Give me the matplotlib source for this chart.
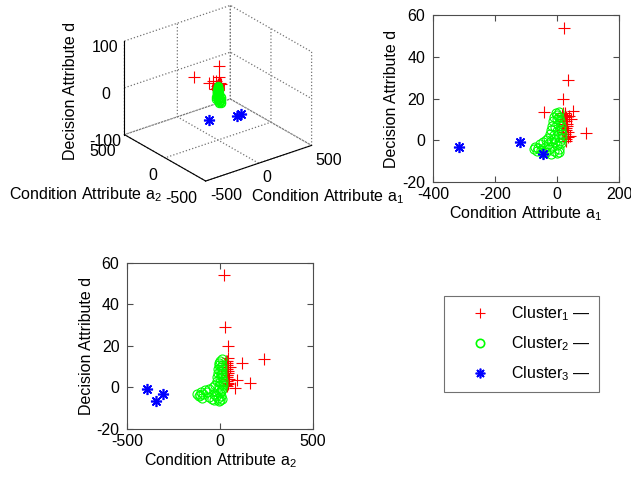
import matplotlib
matplotlib.use("Agg")
import matplotlib.pyplot as plt
from matplotlib.lines import Line2D

plt.rcParams['font.family'] = ['Liberation Sans', 'DejaVu Sans']
plt.rcParams['font.size'] = 11.5
plt.rcParams['mathtext.fontset'] = 'custom'
plt.rcParams['mathtext.rm'] = 'Liberation Sans'
plt.rcParams['mathtext.it'] = 'Liberation Sans:italic'
plt.rcParams['axes.unicode_minus'] = False
plt.rcParams['xtick.direction'] = 'in'
plt.rcParams['ytick.direction'] = 'in'
plt.rcParams['xtick.top'] = True
plt.rcParams['ytick.right'] = True

# cluster 1 (red +): condition a1, condition a2, decision d
c1_a1 = [23, 34, 18, -42, 52, 40, 93, 42, 30, 45,
         20, 25, 30, 22, 28, 32, 18, 25, 30, 20, 27, 35, 22, 30, 15,
         33, 24, 19, 28, 36, 26, 31, 21, 34, 17]
c1_a2 = [21, 28, 43, 236, 43, 117, 90, 161, 81, 54,
         30, 35, 40, 28, 38, 42, 30, 35, 40, 32, 36, 45, 32, 38, 28,
         45, 34, 30, 40, 46, 36, 44, 33, 44, 30]
c1_d = [54, 29, 20, 13.7, 14, 11.8, 3.6, 2, -0.3, 10,
        13, 12, 11, 10, 9, 8, 7, 6, 5, 4, 3, 2, 1, 0.5, 12,
        10, 8, 3, 6, 4, 13, 7, 9, 1.5, 5]

# cluster 2 (green o)
c2_a1 = [-3, 5, 0, -8, 8, 0, -12, 10, 2, -15, 12, -5, -18, 14, 0,
         -22, 15, -8, -30, 15, -10, 5, -35, 10, -20, -45, -5, 12,
         -55, -30, 0, -70, -60, -40, -15, -75, -50, -25, 5,
         -65, -35, -10, 8, -20, 0, -45]
c2_a2 = [0, 10, -5, -8, 12, 5, -10, 8, 0, -12, 10, 3, -15, 12, -2,
         -15, 14, 0, -25, 15, -5, 10, -40, 12, -60, -80, -10, 5,
         -100, -70, 0, -125, -110, -90, -30, -115, -60, -20, 5,
         -95, -45, -10, 10, -5, 0, -30]
c2_d = [13, 13.5, 12, 11, 11, 10, 9, 9, 8, 7, 7, 6.5, 5, 5, 4.5,
        3, 3, 2.5, 1, 1, 0.5, 1.5, 0, -0.5, -0.5, -1, -1, -1.5,
        -2, -2, -2.5, -3, -3.5, -3, -3, -4, -4.5, -4, -4,
        -5, -5.5, -5, -5.5, -6.5, -6, -6]

# cluster 3 (blue *)
c3_a1 = [-316, -118, -46]
c3_a2 = [-305, -391, -344]
c3_d = [-3.1, -0.7, -6.7]

red = (1, 0, 0)
green = (0, 1, 0)
blue = (0, 0, 1)
star = (8, 2, 0)  # matlab style asterisk

fig = plt.figure(figsize=(6.31, 4.79), dpi=100)

# 3-D view
ax3 = fig.add_axes([0.071, 0.581, 0.54, 0.437], projection='3d', proj_type='ortho')
ax3.plot(c1_a1, c1_a2, c1_d, '+', color=red, ms=9, mew=0.8)
ax3.plot(c2_a1, c2_a2, c2_d, 'o', color=green, mfc='none', ms=6, mew=0.8)
ax3.plot(c3_a1, c3_a2, c3_d, marker=star, ls='none', color=blue, ms=8, mew=1.2)
ax3.set_xlim(-500, 500)
ax3.set_ylim(-500, 500)
ax3.set_zlim(-100, 100)
ax3.set_xticks([-500, 0, 500])
ax3.set_yticks([-500, 0, 500])
ax3.set_zticks([-100, 0, 100])
ax3.view_init(elev=26, azim=-127.5)
ax3.set_box_aspect((1, 1, 0.78), zoom=1.0)
for axis in (ax3.xaxis, ax3.yaxis, ax3.zaxis):
    axis.set_pane_color((1, 1, 1, 0))
    axis.pane.set_edgecolor((1, 1, 1, 0))
    axis._axinfo['grid'].update(color='0.45', linestyle=':', linewidth=0.9)
    axis._axinfo['tick'].update(inward_factor=0.0, outward_factor=0.0)
ax3.tick_params(axis='x', pad=-4)
ax3.tick_params(axis='y', pad=-2)
ax3.tick_params(axis='z', pad=0)
for lbl in ax3.get_xticklabels():
    lbl.set_ha('left')
for lbl in ax3.get_yticklabels():
    lbl.set_ha('right')
fig.text(0.015, 0.593, r'Condition Attribute a$_2$', va='center')
fig.text(0.398, 0.589, r'Condition Attribute a$_1$', va='center')
fig.text(0.111, 0.81, 'Decision Attribute d', rotation=90, va='center', ha='center')

# a1 vs d
ax1 = fig.add_axes([0.686, 0.62, 0.295, 0.3487])
ax1.plot(c1_a1, c1_d, '+', color=red, ms=8, mew=0.8)
ax1.plot(c2_a1, c2_d, 'o', color=green, mfc='none', ms=6.5, mew=0.8)
ax1.plot(c3_a1, c3_d, marker=star, ls='none', color=blue, ms=8, mew=1.2)
ax1.set_xlim(-400, 200)
ax1.set_ylim(-20, 60)
ax1.set_xticks([-400, -200, 0, 200])
ax1.set_yticks([-20, 0, 20, 40, 60])
ax1.set_xlabel(r'Condition Attribute a$_1$', labelpad=2)
ax1.set_ylabel('Decision Attribute d', labelpad=2)

# a2 vs d
ax2 = fig.add_axes([0.2013, 0.1044, 0.2948, 0.3466])
ax2.plot(c1_a2, c1_d, '+', color=red, ms=8, mew=0.8)
ax2.plot(c2_a2, c2_d, 'o', color=green, mfc='none', ms=6.5, mew=0.8)
ax2.plot(c3_a2, c3_d, marker=star, ls='none', color=blue, ms=8, mew=1.2)
ax2.set_xlim(-500, 500)
ax2.set_ylim(-20, 60)
ax2.set_xticks([-500, 0, 500])
ax2.set_yticks([-20, 0, 20, 40, 60])
ax2.set_xlabel(r'Condition Attribute a$_2$', labelpad=2)
ax2.set_ylabel('Decision Attribute d', labelpad=2)

for ax in (ax1, ax2):
    for s in ax.spines.values():
        s.set_color('0.3')
    ax.tick_params(length=4, width=0.8, color='0.3')
    ax.tick_params(axis='y', pad=5.5)
    ax.tick_params(axis='x', pad=3.5)

handles = [
    Line2D([], [], ls='none', marker='+', color=red, ms=7, mew=0.8),
    Line2D([], [], ls='none', marker='o', color=green, mfc='none', ms=6, mew=1.2),
    Line2D([], [], ls='none', marker=star, color=blue, ms=7, mew=1.2),
]
labels = [r'Cluster$_1$ —', r'Cluster$_2$ —', r'Cluster$_3$ —']
leg = fig.legend(handles, labels, loc='center', bbox_to_anchor=(0.8265, 0.2818),
                 frameon=True, fancybox=False, edgecolor='0.3', borderpad=0.55,
                 labelspacing=0.7, handletextpad=0.15, handlelength=3.5)
leg.get_frame().set_linewidth(0.8)

fig.savefig('out.png', dpi=100)
